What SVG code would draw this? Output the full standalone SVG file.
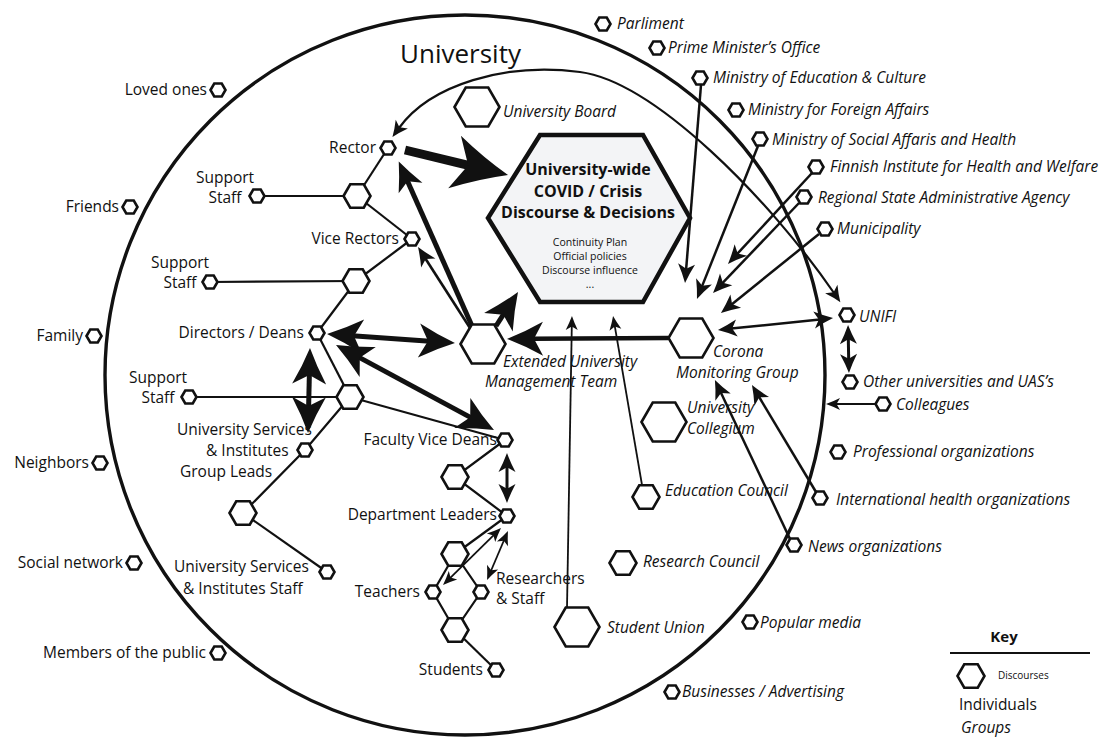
<svg xmlns="http://www.w3.org/2000/svg" width="1109" height="738" viewBox="0 0 1109 738">
<style>
text{font-family:"Open Sans","Liberation Sans",sans-serif;fill:#111}
.i{font-size:15.5px}
.g{font-size:15.5px;font-style:italic}
.e{text-anchor:end}
.c{text-anchor:middle}
.h{fill:#fff;stroke:#111;stroke-width:2.6}
.st{fill:none;stroke:#111;stroke-width:2.2}
.ar{fill:none;stroke:#111}
.mk{fill:#111;stroke:none}
</style>
<defs>
<polygon id="hs" points="-7.5,0 -3.75,-6.5 3.75,-6.5 7.5,0 3.75,6.5 -3.75,6.5"/>
<polygon id="hm" points="-13.5,0 -6.75,-11.7 6.75,-11.7 13.5,0 6.75,11.7 -6.75,11.7"/>
<polygon id="hl" points="-22.5,0 -11.25,-19.5 11.25,-19.5 22.5,0 11.25,19.5 -11.25,19.5"/>
<marker id="hXL" markerUnits="userSpaceOnUse" markerWidth="60" markerHeight="60" refX="16.5" refY="27" orient="auto-start-reverse" overflow="visible"><path class="mk" d="M0,0 Q27,16 55,27 Q27,38 0,54 L14,27 Z"/></marker>
<marker id="hL" markerUnits="userSpaceOnUse" markerWidth="40" markerHeight="40" refX="10.8" refY="17" orient="auto-start-reverse" overflow="visible"><path class="mk" d="M0,0 Q18,10 36,17 Q18,24 0,34 L9,17 Z"/></marker>
<marker id="hLM" markerUnits="userSpaceOnUse" markerWidth="32" markerHeight="32" refX="8.7" refY="13" orient="auto-start-reverse" overflow="visible"><path class="mk" d="M0,0 Q14.5,7.5 29,13 Q14.5,18.5 0,26 L7.2,13 Z"/></marker>
<marker id="hM" markerUnits="userSpaceOnUse" markerWidth="22" markerHeight="22" refX="5.7" refY="8.5" orient="auto-start-reverse" overflow="visible"><path class="mk" d="M0,0 Q9.5,5 19,8.5 Q9.5,12 0,17 L4.7,8.5 Z"/></marker>
<marker id="hA" markerUnits="userSpaceOnUse" markerWidth="18" markerHeight="18" refX="4.8" refY="7.5" orient="auto-start-reverse" overflow="visible"><path class="mk" d="M0,0 Q8,4.5 16,7.5 Q8,10.5 0,15 L4,7.5 Z"/></marker>
<marker id="hS" markerUnits="userSpaceOnUse" markerWidth="16" markerHeight="16" refX="4.2" refY="6" orient="auto-start-reverse" overflow="visible"><path class="mk" d="M0,0 Q7,3.5 14,6 Q7,8.5 0,12 L3.5,6 Z"/></marker>
</defs>
<rect width="1109" height="738" fill="#fff"/>
<circle id="university-boundary" cx="465" cy="375" r="360" fill="none" stroke="#111" stroke-width="3.4"/>
<text x="400" y="63" style="font-size:26px">University</text>

<g id="connectors">
<g class="st">
<line x1="388" y1="148" x2="357" y2="196"/>
<line x1="257" y1="196" x2="357" y2="196"/>
<line x1="357" y1="196" x2="412" y2="239"/>
<line x1="412" y1="239" x2="356" y2="281"/>
<line x1="210" y1="282" x2="356" y2="281"/>
<line x1="356" y1="281" x2="317" y2="333"/>
<line x1="317" y1="333" x2="350" y2="397"/>
<line x1="189" y1="397" x2="350" y2="397"/>
<line x1="350" y1="397" x2="505" y2="440"/>
<polyline points="350,397 305,450 243,513"/>
<line x1="243" y1="513" x2="327" y2="572"/>
<polyline points="505,440 455,477 507,516"/>
<line x1="507" y1="516" x2="455" y2="554"/>
<polyline points="455,554 433,592 455,630 481,592 455,554"/>
<line x1="455" y1="630" x2="496" y2="670"/>
</g>
<g class="ar">
<line x1="405" y1="150" x2="470.6" y2="165.9" stroke-width="9" marker-end="url(#hXL)"/>
<line x1="472" y1="326" x2="407" y2="180" stroke-width="5" marker-end="url(#hLM)"/>
<line x1="470" y1="328" x2="425.2" y2="258.2" stroke-width="2.6" marker-end="url(#hM)"/>
<line x1="496" y1="326" x2="504.3" y2="313.2" stroke-width="5" marker-end="url(#hL)"/>
<line x1="352.2" y1="335.8" x2="429.8" y2="341.2" stroke-width="5" marker-start="url(#hL)" marker-end="url(#hL)"/>
<line x1="358.2" y1="356.9" x2="471.8" y2="418.1" stroke-width="5" marker-start="url(#hL)" marker-end="url(#hL)"/>
<line x1="309.4" y1="373.2" x2="308.6" y2="407.8" stroke-width="5" marker-start="url(#hL)" marker-end="url(#hL)"/>
<line x1="507" y1="466.3" x2="507" y2="489.7" stroke-width="3" marker-start="url(#hM)" marker-end="url(#hM)"/>
<line x1="668" y1="338" x2="532.2" y2="338.8" stroke-width="4.5" marker-end="url(#hL)"/>
<line x1="731.2" y1="328.6" x2="819.8" y2="319.4" stroke-width="2.5" marker-start="url(#hM)" marker-end="url(#hM)"/>
<line x1="848.3" y1="338.3" x2="848.7" y2="359.7" stroke-width="3" marker-start="url(#hM)" marker-end="url(#hM)"/>
<line x1="875" y1="404" x2="835.8" y2="404" stroke-width="2" marker-end="url(#hS)"/>
<line x1="701" y1="85" x2="686.1" y2="269.7" stroke-width="2.5" marker-end="url(#hM)"/>
<line x1="758" y1="146" x2="701.9" y2="286.6" stroke-width="2.5" marker-end="url(#hM)"/>
<line x1="812" y1="173" x2="737" y2="254.2" stroke-width="2.5" marker-end="url(#hM)"/>
<line x1="799" y1="203" x2="722.2" y2="283.4" stroke-width="2.5" marker-end="url(#hM)"/>
<line x1="819" y1="234" x2="731.3" y2="304.7" stroke-width="2.5" marker-end="url(#hM)"/>
<line x1="790" y1="539" x2="720.6" y2="392" stroke-width="2.5" marker-end="url(#hM)"/>
<line x1="816" y1="492" x2="758.8" y2="396.5" stroke-width="2.5" marker-end="url(#hM)"/>
<line x1="567" y1="608" x2="571.8" y2="325.8" stroke-width="1.8" marker-end="url(#hS)"/>
<line x1="642" y1="485" x2="614.7" y2="325.7" stroke-width="1.8" marker-end="url(#hS)"/>
<line x1="494" y1="534.9" x2="450" y2="578.1" stroke-width="1.8" marker-start="url(#hS)" marker-end="url(#hS)"/>
<line x1="504.1" y1="540" x2="490.9" y2="571" stroke-width="1.8" marker-start="url(#hS)" marker-end="url(#hS)"/>
<path d="M399,128 C430,85 505,62 580,72 C655,82 770,200 834,293" stroke-width="2.2" marker-start="url(#hA)" marker-end="url(#hA)"/>
</g>
</g>

<g id="central-discourse">
<polygon points="540,135 643,135 690,218 643,302 540,302 488,218" fill="#f3f4f6" stroke="#111" stroke-width="4.5"/>
<text class="c" x="588" y="175" style="font-size:16px;font-weight:bold">University-wide</text>
<text class="c" x="588" y="197" style="font-size:16px;font-weight:bold">COVID / Crisis</text>
<text class="c" x="588" y="218" style="font-size:16px;font-weight:bold">Discourse &amp; Decisions</text>
<text class="c" x="590" y="246" style="font-size:10.5px">Continuity Plan</text>
<text class="c" x="590" y="260" style="font-size:10.5px">Official policies</text>
<text class="c" x="590" y="274" style="font-size:10.5px">Discourse influence</text>
<text class="c" x="590" y="288" style="font-size:10.5px">...</text>
</g>

<g id="rector"><use href="#hs" class="h" x="388" y="148"/><text class="i e" x="376" y="153">Rector</text></g>
<g id="rector-support-hub"><use href="#hm" class="h" x="357" y="196"/></g>
<g id="support-staff-1"><use href="#hs" class="h" x="257" y="196"/><text class="i c" x="225" y="183">Support</text><text class="i c" x="225" y="203">Staff</text></g>
<g id="vice-rectors"><use href="#hs" class="h" x="412" y="239"/><text class="i e" x="399" y="244">Vice Rectors</text></g>
<g id="vice-rectors-hub"><use href="#hm" class="h" x="356" y="281"/></g>
<g id="support-staff-2"><use href="#hs" class="h" x="210" y="282"/><text class="i c" x="180" y="268">Support</text><text class="i c" x="180" y="288">Staff</text></g>
<g id="directors-deans"><use href="#hs" class="h" x="317" y="333"/><text class="i e" x="304" y="338">Directors / Deans</text></g>
<g id="directors-hub"><use href="#hm" class="h" x="350" y="397"/></g>
<g id="support-staff-3"><use href="#hs" class="h" x="189" y="397"/><text class="i c" x="158" y="383">Support</text><text class="i c" x="158" y="403">Staff</text></g>
<g id="services-group-leads"><use href="#hs" class="h" x="305" y="450"/><text class="i" x="177" y="435">University Services</text><text class="i" x="206" y="456">&amp; Institutes</text><text class="i" x="180" y="477">Group Leads</text></g>
<g id="services-hub"><use href="#hm" class="h" x="243" y="513"/></g>
<g id="services-staff"><use href="#hs" class="h" x="327" y="572"/><text class="i" x="174" y="572">University Services</text><text class="i" x="183" y="594">&amp; Institutes Staff</text></g>
<g id="faculty-vice-deans"><use href="#hs" class="h" x="505" y="440"/><text class="i e" x="497" y="445">Faculty Vice Deans</text></g>
<g id="faculty-hub"><use href="#hm" class="h" x="455" y="477"/></g>
<g id="department-leaders"><use href="#hs" class="h" x="507" y="516"/><text class="i e" x="497" y="520">Department Leaders</text></g>
<g id="department-hub"><use href="#hm" class="h" x="455" y="554"/></g>
<g id="teachers"><use href="#hs" class="h" x="433" y="592"/><text class="i e" x="420" y="597">Teachers</text></g>
<g id="researchers"><use href="#hs" class="h" x="481" y="592"/><text class="i" x="496" y="584">Researchers</text><text class="i" x="496" y="604">&amp; Staff</text></g>
<g id="teaching-hub"><use href="#hm" class="h" x="455" y="630"/></g>
<g id="students"><use href="#hs" class="h" x="496" y="670"/><text class="i e" x="483" y="675">Students</text></g>

<g id="loved-ones"><use href="#hs" class="h" x="218" y="90"/><text class="i e" x="207" y="95">Loved ones</text></g>
<g id="friends"><use href="#hs" class="h" x="130" y="207"/><text class="i e" x="119" y="212">Friends</text></g>
<g id="family"><use href="#hs" class="h" x="94" y="336"/><text class="i e" x="83" y="341">Family</text></g>
<g id="neighbors"><use href="#hs" class="h" x="100" y="463"/><text class="i e" x="89" y="468">Neighbors</text></g>
<g id="social-network"><use href="#hs" class="h" x="134" y="563"/><text class="i e" x="123" y="568">Social network</text></g>
<g id="members-of-public"><use href="#hs" class="h" x="218" y="653"/><text class="i e" x="206" y="658">Members of the public</text></g>

<g id="university-board"><use href="#hl" class="h" x="477" y="107"/><text class="g" x="503" y="117">University Board</text></g>
<g id="extended-management-team"><use href="#hl" class="h" x="483" y="344"/><text class="g" x="503" y="367">Extended University</text><text class="g" x="485" y="387">Management Team</text></g>
<g id="corona-monitoring-group"><use href="#hl" class="h" x="691" y="338"/><text class="g" x="713" y="357">Corona</text><text class="g" x="676" y="378">Monitoring Group</text></g>
<g id="university-collegium"><use href="#hl" class="h" x="664" y="422"/><text class="g" x="687" y="413">University</text><text class="g" x="687" y="434">Collegium</text></g>
<g id="education-council"><use href="#hm" class="h" x="646" y="497"/><text class="g" x="665" y="496">Education Council</text></g>
<g id="research-council"><use href="#hm" class="h" x="623" y="563"/><text class="g" x="643" y="567">Research Council</text></g>
<g id="student-union"><use href="#hl" class="h" x="577" y="627"/><text class="g" x="607" y="633">Student Union</text></g>

<g id="parliament"><use href="#hs" class="h" x="603" y="24"/><text class="g" x="617" y="29">Parliment</text></g>
<g id="pm-office"><use href="#hs" class="h" x="657" y="48"/><text class="g" x="668" y="53">Prime Minister’s Office</text></g>
<g id="ministry-education"><use href="#hs" class="h" x="700" y="78"/><text class="g" x="713" y="83">Ministry of Education &amp; Culture</text></g>
<g id="ministry-foreign"><use href="#hs" class="h" x="736" y="110"/><text class="g" x="748" y="115">Ministry for Foreign Affairs</text></g>
<g id="ministry-social"><use href="#hs" class="h" x="760" y="139"/><text class="g" x="772" y="145">Ministry of Social Affaris and Health</text></g>
<g id="finnish-institute"><use href="#hs" class="h" x="816" y="167"/><text class="g" x="830" y="172">Finnish Institute for Health and Welfare</text></g>
<g id="regional-agency"><use href="#hs" class="h" x="804" y="197"/><text class="g" x="818" y="203">Regional State Administrative Agency</text></g>
<g id="municipality"><use href="#hs" class="h" x="825" y="229"/><text class="g" x="837" y="234">Municipality</text></g>
<g id="unifi"><use href="#hs" class="h" x="847" y="315"/><text class="g" x="859" y="322">UNIFI</text></g>
<g id="other-universities"><use href="#hs" class="h" x="850" y="382"/><text class="g" x="863" y="387">Other universities and UAS’s</text></g>
<g id="colleagues"><use href="#hs" class="h" x="883" y="404"/><text class="g" x="896" y="410">Colleagues</text></g>
<g id="professional-orgs"><use href="#hs" class="h" x="838" y="452"/><text class="g" x="853" y="457">Professional organizations</text></g>
<g id="international-health"><use href="#hs" class="h" x="820" y="498"/><text class="g" x="836" y="505">International health organizations</text></g>
<g id="news-orgs"><use href="#hs" class="h" x="794" y="545"/><text class="g" x="808" y="552">News organizations</text></g>
<g id="popular-media"><use href="#hs" class="h" x="750" y="622"/><text class="g" x="760" y="628">Popular media</text></g>
<g id="businesses"><use href="#hs" class="h" x="672" y="692"/><text class="g" x="682" y="697">Businesses / Advertising</text></g>

<g id="key">
<text class="c" x="1004" y="642" style="font-size:15px;font-weight:bold">Key</text>
<line x1="950" y1="653" x2="1090" y2="653" stroke="#111" stroke-width="2"/>
<use href="#hm" class="h" x="971" y="676"/>
<text x="998" y="679" style="font-size:10px">Discourses</text>
<text class="i" x="959" y="710">Individuals</text>
<text class="g" x="961" y="733">Groups</text>
</g>
</svg>
